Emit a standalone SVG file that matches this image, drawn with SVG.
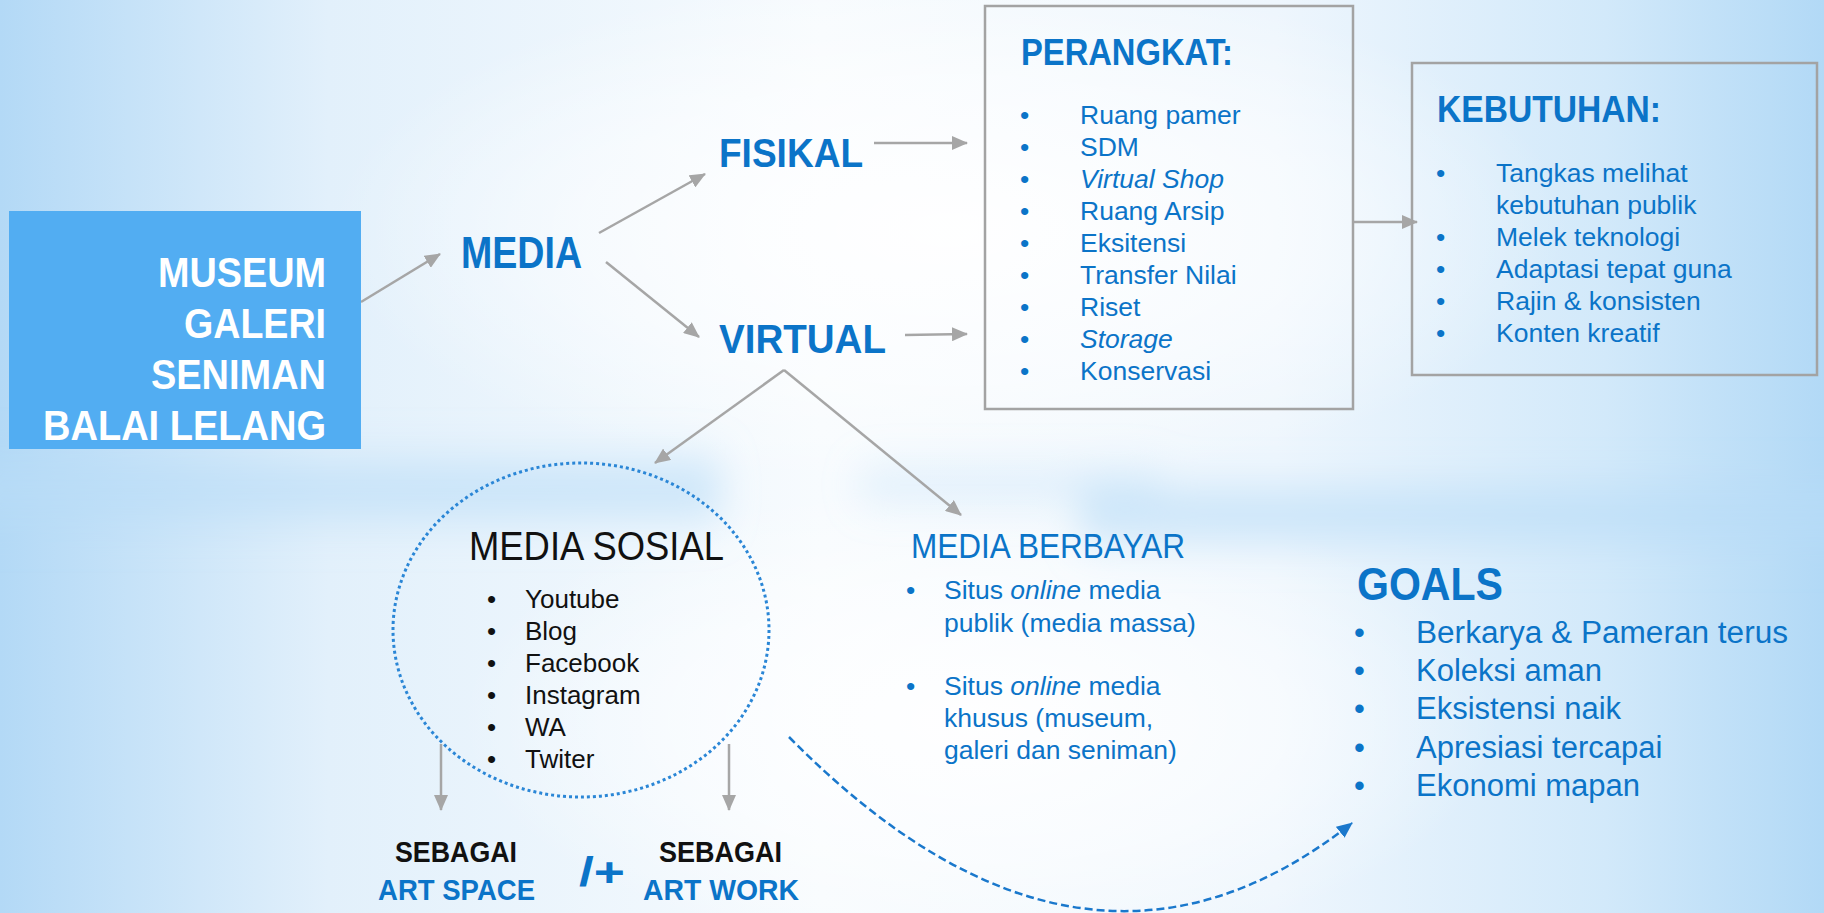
<svg xmlns="http://www.w3.org/2000/svg" width="1824" height="913" viewBox="0 0 1824 913">
  <defs>
    <linearGradient id="bgH" x1="0" y1="0" x2="1" y2="0">
      <stop offset="0" stop-color="#b3d9f6"/>
      <stop offset="0.18" stop-color="#e2f0fb"/>
      <stop offset="0.45" stop-color="#f7fbfe"/>
      <stop offset="0.7" stop-color="#eef6fd"/>
      <stop offset="0.88" stop-color="#d2e9fa"/>
      <stop offset="1" stop-color="#b2d9f6"/>
    </linearGradient>
    <radialGradient id="glowA" cx="0.5" cy="0.5" r="0.5">
      <stop offset="0" stop-color="#ffffff" stop-opacity="0.95"/>
      <stop offset="0.6" stop-color="#ffffff" stop-opacity="0.5"/>
      <stop offset="1" stop-color="#ffffff" stop-opacity="0"/>
    </radialGradient>
    <linearGradient id="band" x1="0" y1="0" x2="0" y2="1">
      <stop offset="0" stop-color="#b8dcf7" stop-opacity="0"/>
      <stop offset="0.5" stop-color="#b8dcf7" stop-opacity="0.75"/>
      <stop offset="1" stop-color="#b8dcf7" stop-opacity="0"/>
    </linearGradient>
    <filter id="soft" x="-10%" y="-50%" width="120%" height="200%">
      <feGaussianBlur stdDeviation="18"/>
    </filter>
    <marker id="ag" viewBox="0 0 16 14" refX="15" refY="7" markerWidth="16" markerHeight="14" markerUnits="userSpaceOnUse" orient="auto">
      <path d="M0,0 L16,7 L0,14 z" fill="#a6a6a6"/>
    </marker>
    <marker id="ab" viewBox="0 0 16 14" refX="15" refY="7" markerWidth="16" markerHeight="14" markerUnits="userSpaceOnUse" orient="auto">
      <path d="M0,0 L16,7 L0,14 z" fill="#1a78cc"/>
    </marker>
    <style>
      text { font-family: "Liberation Sans", Arial, sans-serif; }
      .hd { font-weight: bold; fill: #0b74c8; }
      .wt { font-weight: bold; fill: #ffffff; font-size: 43px; }
      .it { font-size: 26.5px; fill: #0b74c8; }
      .bk { font-size: 26px; fill: #111111; }
      .em { font-style: italic; }
      .box { fill: none; stroke: #a3a3a3; stroke-width: 2.5; }
      .cn { stroke: #a6a6a6; stroke-width: 2.5; fill: none; marker-end: url(#ag); }
    </style>
  </defs>

  <!-- sky-like backdrop -->
  <rect x="0" y="0" width="1824" height="913" fill="url(#bgH)"/>
  <ellipse cx="950" cy="230" rx="620" ry="260" fill="url(#glowA)"/>
  <ellipse cx="980" cy="720" rx="520" ry="240" fill="url(#glowA)"/>
  <g filter="url(#soft)">
    <rect x="-40" y="440" width="760" height="100" fill="url(#band)"/>
    <rect x="1080" y="470" width="800" height="90" fill="url(#band)"/>
    <rect x="860" y="455" width="300" height="60" fill="url(#band)" opacity="0.5"/>
  </g>

  <!-- connectors -->
  <g id="connectors">
    <line class="cn" x1="361" y1="302" x2="440" y2="254"/>
    <line class="cn" x1="599" y1="233" x2="705" y2="174"/>
    <line class="cn" x1="606" y1="262" x2="699" y2="337"/>
    <line class="cn" x1="874" y1="143" x2="967" y2="143"/>
    <line class="cn" x1="905" y1="335" x2="967" y2="334"/>
    <line class="cn" x1="1353" y1="222" x2="1417" y2="222"/>
    <line class="cn" x1="784" y1="370" x2="655" y2="463"/>
    <line class="cn" x1="784" y1="370" x2="961" y2="515"/>
    <line class="cn" x1="441" y1="744" x2="441" y2="810"/>
    <line class="cn" x1="729" y1="744" x2="729" y2="810"/>
    <path d="M789,737 Q1083,1035 1352,823" fill="none" stroke="#1a78cc" stroke-width="2.5" stroke-dasharray="8,4" marker-end="url(#ab)"/>
  </g>

  <!-- source box -->
  <g id="source">
    <rect x="9" y="211" width="352" height="238" fill="#52adf2"/>
    <text class="wt" x="158" y="287" textLength="168" lengthAdjust="spacingAndGlyphs">MUSEUM</text>
    <text class="wt" x="184" y="338" textLength="142" lengthAdjust="spacingAndGlyphs">GALERI</text>
    <text class="wt" x="151" y="389" textLength="175" lengthAdjust="spacingAndGlyphs">SENIMAN</text>
    <text class="wt" x="43" y="440" textLength="283" lengthAdjust="spacingAndGlyphs">BALAI LELANG</text>
  </g>

  <g id="media">
    <text class="hd" x="461" y="268" font-size="44" textLength="121" lengthAdjust="spacingAndGlyphs">MEDIA</text>
  </g>

  <g id="fisikal">
    <text class="hd" x="719" y="167" font-size="41" textLength="144" lengthAdjust="spacingAndGlyphs">FISIKAL</text>
  </g>

  <g id="virtual">
    <text class="hd" x="719" y="353" font-size="41" textLength="167" lengthAdjust="spacingAndGlyphs">VIRTUAL</text>
  </g>

  <!-- equipment list -->
  <g id="perangkat">
    <rect class="box" x="985" y="6" width="368" height="403"/>
    <text class="hd" x="1021" y="65" font-size="37" textLength="212" lengthAdjust="spacingAndGlyphs">PERANGKAT:</text>
    <g class="it">
      <text x="1020" y="124">•</text><text x="1080" y="124">Ruang pamer</text>
      <text x="1020" y="156">•</text><text x="1080" y="156">SDM</text>
      <text x="1020" y="188">•</text><text x="1080" y="188" class="em">Virtual Shop</text>
      <text x="1020" y="220">•</text><text x="1080" y="220">Ruang Arsip</text>
      <text x="1020" y="252">•</text><text x="1080" y="252">Eksitensi</text>
      <text x="1020" y="284">•</text><text x="1080" y="284">Transfer Nilai</text>
      <text x="1020" y="316">•</text><text x="1080" y="316">Riset</text>
      <text x="1020" y="348">•</text><text x="1080" y="348" class="em">Storage</text>
      <text x="1020" y="380">•</text><text x="1080" y="380">Konservasi</text>
    </g>
  </g>

  <!-- needs list -->
  <g id="kebutuhan">
    <rect class="box" x="1412" y="63" width="405" height="312"/>
    <text class="hd" x="1437" y="122" font-size="37" textLength="224" lengthAdjust="spacingAndGlyphs">KEBUTUHAN:</text>
    <g class="it">
      <text x="1436" y="182">•</text><text x="1496" y="182">Tangkas melihat</text>
      <text x="1496" y="214">kebutuhan publik</text>
      <text x="1436" y="246">•</text><text x="1496" y="246">Melek teknologi</text>
      <text x="1436" y="278">•</text><text x="1496" y="278">Adaptasi tepat guna</text>
      <text x="1436" y="310">•</text><text x="1496" y="310">Rajin &amp; konsisten</text>
      <text x="1436" y="342">•</text><text x="1496" y="342">Konten kreatif</text>
    </g>
  </g>

  <!-- social media circle -->
  <g id="media-sosial">
    <ellipse cx="581" cy="630" rx="188" ry="167" fill="none" stroke="#2a86d6" stroke-width="3" stroke-dasharray="3,3"/>
    <text x="469" y="560" font-size="40" fill="#111111" textLength="255" lengthAdjust="spacingAndGlyphs">MEDIA SOSIAL</text>
    <g class="bk">
      <text x="487" y="608">•</text><text x="525" y="608">Youtube</text>
      <text x="487" y="640">•</text><text x="525" y="640">Blog</text>
      <text x="487" y="672">•</text><text x="525" y="672">Facebook</text>
      <text x="487" y="704">•</text><text x="525" y="704">Instagram</text>
      <text x="487" y="736">•</text><text x="525" y="736">WA</text>
      <text x="487" y="768">•</text><text x="525" y="768">Twiter</text>
    </g>
  </g>

  <!-- paid media -->
  <g id="media-berbayar">
    <text x="911" y="558" font-size="35" fill="#0b74c8" textLength="274" lengthAdjust="spacingAndGlyphs">MEDIA BERBAYAR</text>
    <g class="it">
      <text x="906" y="599">•</text><text x="944" y="599">Situs <tspan class="em">online</tspan> media</text>
      <text x="944" y="632">publik (media massa)</text>
      <text x="906" y="695">•</text><text x="944" y="695">Situs <tspan class="em">online</tspan> media</text>
      <text x="944" y="727">khusus (museum,</text>
      <text x="944" y="759">galeri dan seniman)</text>
    </g>
  </g>

  <!-- outputs -->
  <g id="art-space">
    <text x="395" y="862" font-size="30" font-weight="bold" fill="#111111" textLength="122" lengthAdjust="spacingAndGlyphs">SEBAGAI</text>
    <text class="hd" x="378" y="900" font-size="30" textLength="157" lengthAdjust="spacingAndGlyphs">ART SPACE</text>
  </g>
  <g id="separator">
    <text class="hd" x="579" y="886" font-size="40" textLength="46" lengthAdjust="spacingAndGlyphs">/+</text>
  </g>
  <g id="art-work">
    <text x="659" y="862" font-size="30" font-weight="bold" fill="#111111" textLength="123" lengthAdjust="spacingAndGlyphs">SEBAGAI</text>
    <text class="hd" x="643" y="900" font-size="30" textLength="156" lengthAdjust="spacingAndGlyphs">ART WORK</text>
  </g>

  <!-- goals -->
  <g id="goals">
    <text class="hd" x="1357" y="600" font-size="47" textLength="146" lengthAdjust="spacingAndGlyphs">GOALS</text>
    <g font-size="31" fill="#0b74c8">
      <text x="1354" y="643">•</text><text x="1416" y="643" textLength="372" lengthAdjust="spacingAndGlyphs">Berkarya &amp; Pameran terus</text>
      <text x="1354" y="681">•</text><text x="1416" y="681">Koleksi aman</text>
      <text x="1354" y="719">•</text><text x="1416" y="719">Eksistensi naik</text>
      <text x="1354" y="758">•</text><text x="1416" y="758">Apresiasi tercapai</text>
      <text x="1354" y="796">•</text><text x="1416" y="796">Ekonomi mapan</text>
    </g>
  </g>
</svg>
